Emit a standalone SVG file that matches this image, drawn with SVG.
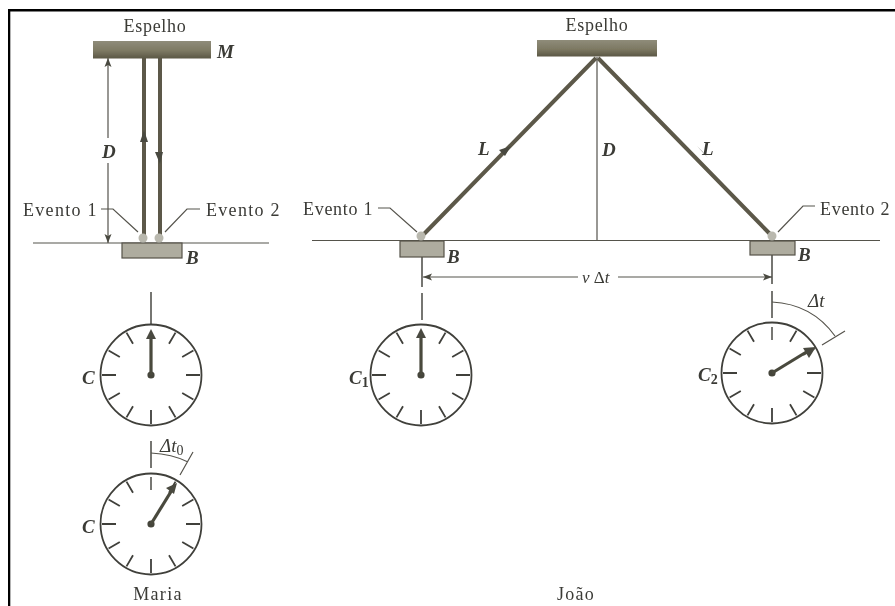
<svg xmlns="http://www.w3.org/2000/svg" xmlns:xlink="http://www.w3.org/1999/xlink" width="895" height="606" viewBox="0 0 895 606">
<style>
text{font-family:"Liberation Serif","Times New Roman",serif;font-size:18px;fill:#3a3a36;letter-spacing:.7px}
.w{letter-spacing:1.3px}
.i{font-style:italic;font-weight:bold;font-size:19px;letter-spacing:0}
.m{fill:url(#tex)}
.b{fill:#aeac9f;stroke:#55534a;stroke-width:1.2}
.dot{fill:#b9b8ae}
.t{fill:none;stroke:#55534c;stroke-width:1.2}
.g{fill:none;stroke:#4a4a44;stroke-width:1.5}
.beam{fill:none;stroke:#5c5848;stroke-width:4}
.face{fill:none;stroke:#3f3f3a;stroke-width:1.8}
.hand{fill:none;stroke:#4a4a3e;stroke-width:3.200}
.hub{fill:#44443a}
.ah{fill:#4a4a40}
</style>
<defs>
<filter id="soft" x="0" y="0" width="1" height="1"><feGaussianBlur stdDeviation="0.45"/></filter>
<linearGradient id="tex" x1="0" y1="0" x2="0" y2="1"><stop offset="0" stop-color="#8f8c7a"/><stop offset=".55" stop-color="#7d7963"/><stop offset="1" stop-color="#5b5745"/></linearGradient>
<g id="face">
<circle class="face" r="50.5"/>
<path class="face" d="M24.5-42.4 18-31.2M42.4-24.5 31.2-18M49 0H35M42.4 24.5 31.2 18M24.5 42.4 18 31.2M0 49V35M-24.5 42.4-18 31.2M-42.4 24.5-31.2 18M-49 0H-35M-42.4-24.5-31.2-18M-24.5-42.4-18-31.2"/>
<circle class="hub" r="3.6"/>
</g>
<marker id="a" markerUnits="userSpaceOnUse" markerWidth="10" markerHeight="8" refX="9" refY="4" orient="auto-start-reverse"><path class="ah" d="M0 0.500 9 4 0 7.500 2 4Z"/></marker>
</defs>
<rect width="895" height="606" fill="#fff"/>
<g filter="url(#soft)">
<path d="M8.500 606V9.700H895" fill="none" stroke="#000" stroke-width="3.600"/>

<g id="connectors">
<path class="t" d="M33 243H269M312 240.500H880"/>
<path class="t" d="M597 57V240"/>
<path class="t" d="M108 58V138" marker-start="url(#a)"/>
<path class="t" d="M108 163V243" marker-end="url(#a)"/>
<path class="beam" d="M144 58V235M160 58V235"/>
<path class="beam" d="M424 234 596 58M598 58 770 234"/>
<path class="t" d="M101 209H113L138 232M200 209H187L165 232"/>
<path class="t" d="M378 208H390L417 232M815 206H803L778 232"/>
<path class="t" d="M423 277H578" marker-start="url(#a)"/>
<path class="t" d="M618 277H772" marker-end="url(#a)"/>
<path class="g" d="M422 257V287M422 293V320M772 255V284M772 291V318"/>
<path class="g" d="M151 292V325M151 441V468"/>
<path class="t" d="M151 453Q172 454 188 462M193 452 180 475"/>
<path class="t" d="M772 302Q812 304 835 336M845 331 822 345"/>
<path class="ah" d="M144 130 140 142H148ZM155 152H163L160 164Z"/>
<path class="ah" d="M511 146 499 150 505 156ZM697 146 708 158 702 151Z"/>
</g>

<g id="mirror-maria"><rect class="m" x="93" y="41" width="118" height="17.500"/><text x="155" y="32" text-anchor="middle">Espelho</text><text class="i" x="217" y="58">M</text></g>
<g id="block-maria"><rect class="b" x="122" y="243" width="60" height="15"/><circle class="dot" cx="143" cy="238" r="4.500"/><circle class="dot" cx="159" cy="238" r="4.500"/><text class="i" x="186" y="264">B</text></g>
<g id="labels-maria"><text class="i" x="102" y="158">D</text><text class="w" x="23" y="216">Evento 1</text><text class="w" x="206" y="216">Evento 2</text></g>

<g id="clock-c"><use xlink:href="#face" href="#face" x="151" y="375"/><path class="hand" d="M151 375V335"/><path class="ah" d="M151 329 146 339H156Z"/><text class="i" x="82" y="384">C</text></g>
<g id="clock-c0"><use xlink:href="#face" href="#face" x="151" y="524"/><path class="g" d="M151 477V490"/><path class="hand" d="M151 524 172 490"/><path class="ah" d="M177 483 166 488 174 494Z"/><text class="i" x="160" y="452" style="font-weight:normal">Δt<tspan font-size="14" dy="3" font-style="normal">0</tspan></text><text class="i" x="82" y="533">C</text></g>
<text id="maria" class="w" x="158" y="600" text-anchor="middle">Maria</text>

<g id="mirror-joao"><rect class="m" x="537" y="40" width="120" height="16.500"/><text x="597" y="31" text-anchor="middle">Espelho</text></g>
<g id="block-1"><rect class="b" x="400" y="241" width="44" height="16"/><circle class="dot" cx="421" cy="236" r="4.500"/><text class="i" x="447" y="263">B</text></g>
<g id="block-2"><rect class="b" x="750" y="241" width="45" height="14"/><circle class="dot" cx="772" cy="236" r="4.500"/><text class="i" x="798" y="261">B</text></g>
<g id="labels-joao"><text class="i" x="478" y="155">L</text><text class="i" x="702" y="155">L</text><text class="i" x="602" y="156">D</text><text x="303" y="215">Evento 1</text><text x="820" y="215">Evento 2</text><text class="i" x="582" y="283" style="font-weight:normal;font-size:17px">v <tspan font-style="normal">Δ</tspan>t</text></g>
<g id="clock-c1"><use xlink:href="#face" href="#face" x="421" y="375"/><path class="hand" d="M421 375V335"/><path class="ah" d="M421 328 416 338H426Z"/><text class="i" x="349" y="384">C<tspan font-size="14" dy="3" font-style="normal">1</tspan></text></g>
<g id="clock-c2"><use xlink:href="#face" href="#face" x="772" y="373"/><path class="g" d="M772 327V340"/><path class="hand" d="M772 373 808 351"/><path class="ah" d="M816 347 803 348 809 358Z"/><text class="i" x="698" y="381">C<tspan font-size="14" dy="3" font-style="normal">2</tspan></text><text class="i" x="808" y="307" style="font-weight:normal">Δt</text></g>
<text id="joao" class="w" x="576" y="600" text-anchor="middle">João</text>
</g>
</svg>
